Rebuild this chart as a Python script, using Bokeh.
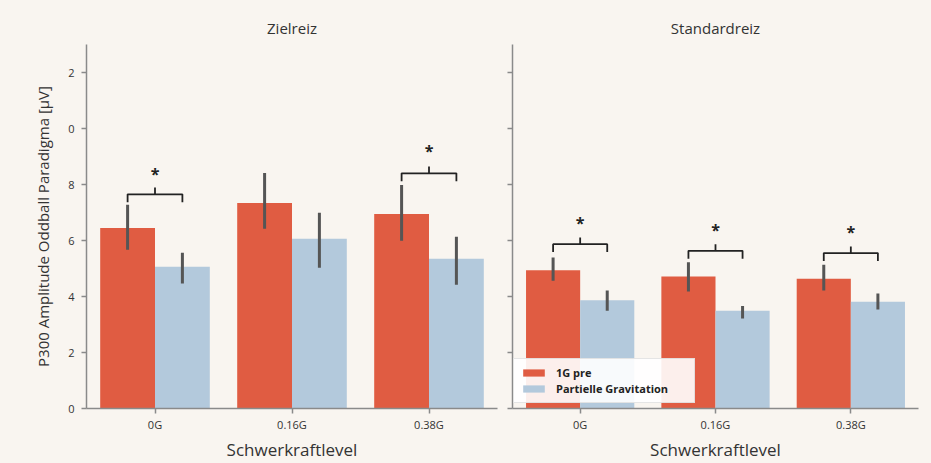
from bokeh.plotting import figure
from bokeh.layouts import row
from bokeh.models import Range1d, FixedTicker, Legend, LegendItem
from bokeh.embed import file_html
from bokeh.resources import INLINE
from bokeh.core.properties import value

# ---------------- data ----------------
levels = ["0G", "0.16G", "0.38G"]
panels = ["Zielreiz", "Standardreiz"]
series = ["1G pre", "Partielle Gravitation"]

ziel_pre = [6.45, 7.34, 6.95]
ziel_pre_lo = [5.67, 6.42, 5.99]
ziel_pre_hi = [7.28, 8.41, 7.98]
ziel_pg = [5.06, 6.06, 5.35]
ziel_pg_lo = [4.46, 5.03, 4.42]
ziel_pg_hi = [5.56, 6.99, 6.13]

std_pre = [4.94, 4.71, 4.63]
std_pre_lo = [4.56, 4.18, 4.21]
std_pre_hi = [5.39, 5.22, 5.13]
std_pg = [3.87, 3.49, 3.81]
std_pg_lo = [3.49, 3.21, 3.54]
std_pg_hi = [4.21, 3.66, 4.11]

# significance brackets: (level index, bracket height, star height)
ziel_sig = [(0, 7.65, 8.38), (2, 8.40, 9.20)]
std_sig = [(0, 5.87, 6.64), (1, 5.63, 6.37), (2, 5.55, 6.29)]

y_ticks = [0, 2, 4, 6, 8, 10, 12]
y_tick_labels = ["0", "2", "4", "6", "8", "0", "2"]

RED = "#E05C42"
BLUE = "#B3C9DC"
BG = "#F9F5F0"
ERR = "#555555"
TXT = "#333333"
FONT = "Open Sans"

def make_panel(title, pre, pre_lo, pre_hi, pg, pg_lo, pg_hi, sig, first, width, bl, br):
    p = figure(width=width, height=463, output_backend="svg", toolbar_location=None,
               x_range=Range1d(-0.5, 2.5), y_range=Range1d(0, 13),
               min_border_left=bl, min_border_right=br, min_border_top=44, min_border_bottom=55,
               background_fill_color=BG, border_fill_color=BG, outline_line_color=None)
    p.grid.visible = False
    p.title.text = title
    p.title.align = "center"
    p.title.vertical_align = "top"
    p.title.text_font = FONT
    p.title.text_font_size = "15px"
    p.title.text_font_style = "normal"
    p.title.text_color = TXT
    p.title.standoff = 10

    xs = list(range(len(levels)))
    x_pre = [x - 0.2 for x in xs]
    x_pg = [x + 0.2 for x in xs]
    r_pre = p.vbar(x=x_pre, top=pre, bottom=0, width=0.4, fill_color=RED, line_color=None)
    r_pg = p.vbar(x=x_pg, top=pg, bottom=0, width=0.4, fill_color=BLUE, line_color=None)
    p.segment(x0=x_pre, x1=x_pre, y0=pre_lo, y1=pre_hi, line_color=ERR, line_width=3)
    p.segment(x0=x_pg, x1=x_pg, y0=pg_lo, y1=pg_hi, line_color=ERR, line_width=3)

    bx, by, sx, sy = [], [], [], []
    for (i, h, s) in sig:
        x1, x2, xm = i - 0.2, i + 0.2, i
        bx.append([x1, x1, xm, xm, xm, x2, x2])
        by.append([h - 0.28, h, h, h + 0.24, h, h, h - 0.28])
        sx.append(xm)
        sy.append(s)
    p.multi_line(xs=bx, ys=by, line_color="#222222", line_width=1.8)
    p.text(x=sx, y=sy, text=["*"] * len(sx), text_align="center", text_baseline="middle",
           text_font=value(FONT), text_font_size="16px", text_font_style="bold", text_color="#222222")

    p.xaxis.ticker = FixedTicker(ticks=xs)
    p.xaxis.major_label_overrides = {i: l for i, l in enumerate(levels)}
    p.xaxis.axis_label = "Schwerkraftlevel"
    p.yaxis.ticker = FixedTicker(ticks=y_ticks)
    for ax in (p.xaxis, p.yaxis):
        ax.axis_line_color = "#8a8a8a"
        ax.axis_line_width = 1.5
        ax.major_tick_line_color = "#8a8a8a"
        ax.major_tick_line_width = 1.5
        ax.major_tick_out = 5
        ax.major_tick_in = 0
        ax.minor_tick_line_color = None
        ax.major_label_text_font = FONT
        ax.major_label_text_font_size = "11px"
        ax.major_label_text_color = TXT
        ax.axis_label_text_font = FONT
        ax.axis_label_text_font_style = "normal"
        ax.axis_label_text_color = TXT
    p.xaxis.axis_label_text_font_size = "17px"
    p.xaxis.axis_label_standoff = 3
    p.xaxis.major_label_standoff = 3
    if first:
        p.yaxis.major_label_overrides = {t: l for t, l in zip(y_ticks, y_tick_labels)}
        p.yaxis.major_label_standoff = 7
        p.yaxis.axis_label = "P300 Amplitude Oddball Paradigma [\u00b5V]"
        p.yaxis.axis_label_text_font_size = "15px"
        p.yaxis.axis_label_standoff = 12
    else:
        p.yaxis.major_label_overrides = {t: "" for t in y_ticks}
        p.yaxis.major_label_standoff = 0
        legend = Legend(items=[LegendItem(label=series[0], renderers=[r_pre]),
                               LegendItem(label=series[1], renderers=[r_pg])],
                        location=(1, 5), margin=0, padding=6, spacing=1,
                        glyph_width=27, glyph_height=9,
                        label_text_font=FONT, label_text_font_size="11px",
                        label_text_font_style="bold", label_text_color="#222222",
                        label_height=11, label_width=132, label_standoff=9,
                        background_fill_color="white", background_fill_alpha=0.9,
                        border_line_color="#cccccc", border_line_width=1)
        p.add_layout(legend, "center")
    return p

p1 = make_panel(panels[0], ziel_pre, ziel_pre_lo, ziel_pre_hi, ziel_pg, ziel_pg_lo, ziel_pg_hi,
                ziel_sig, True, 504, 86, 7)
p2 = make_panel(panels[1], std_pre, std_pre_lo, std_pre_hi, std_pg, std_pg_lo, std_pg_hi,
                std_sig, False, 427, 8, 13)

layout = row(p1, p2, spacing=0, styles={"background-color": BG})
open("out.html", "w").write(file_html(layout, INLINE))
